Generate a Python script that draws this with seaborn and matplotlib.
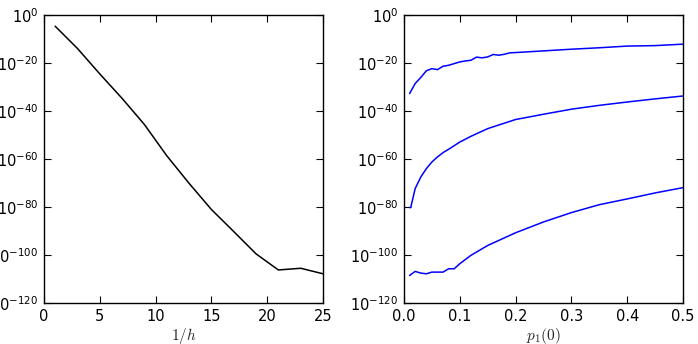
import numpy as np
import pandas as pd
import seaborn as sns
import matplotlib.pyplot as plt

# left panel: error vs 1/h (log10 of values)
inv_h = [1, 3, 5, 7, 9, 11, 13, 15, 17, 19, 21, 23, 25]
err_exp = [-4.6, -13.9, -24.5, -34.7, -45.6, -58.6, -70.1, -81.0, -90.2, -99.5, -106.2, -105.5, -107.8]

# right panel: three curves vs p1(0) (log10 of values)
p_top = [0.01, 0.02, 0.03, 0.04, 0.05, 0.06, 0.07, 0.08, 0.09, 0.10, 0.11, 0.12, 0.13, 0.14,
         0.15, 0.16, 0.17, 0.18, 0.19, 0.20, 0.25, 0.30, 0.35, 0.40, 0.45, 0.50]
top_exp = [-32.7, -28.5, -26.0, -23.2, -22.3, -22.7, -21.3, -20.9, -20.2, -19.5, -19.1, -18.8,
           -17.5, -17.8, -17.4, -16.4, -16.7, -16.3, -15.7, -15.6, -14.9, -14.2, -13.6, -12.9,
           -12.7, -12.1]

p_mid = [0.01, 0.012, 0.02, 0.03, 0.04, 0.05, 0.06, 0.07, 0.08, 0.10, 0.12, 0.15, 0.20,
         0.25, 0.30, 0.35, 0.40, 0.45, 0.50]
mid_exp = [-80.2, -80.2, -72.3, -67.5, -64.0, -61.2, -59.1, -57.3, -55.9, -52.9, -50.5, -47.3,
           -43.5, -41.3, -39.2, -37.6, -36.2, -34.9, -33.7]

p_bot = [0.01, 0.02, 0.03, 0.04, 0.05, 0.06, 0.07, 0.08, 0.09, 0.10, 0.12, 0.15, 0.20,
         0.25, 0.30, 0.35, 0.40, 0.45, 0.50]
bot_exp = [-108.5, -106.8, -107.5, -107.8, -107.1, -107.1, -107.1, -105.7, -105.7, -103.6,
           -100.1, -96.0, -90.7, -86.2, -82.3, -79.0, -76.6, -74.1, -71.9]

sns.set_style("ticks")
plt.rcParams['font.family'] = ['DejaVu Sans']
plt.rcParams['axes.unicode_minus'] = False
plt.rcParams['mathtext.fontset'] = 'dejavusans'

fig = plt.figure(figsize=(6.98, 3.44), dpi=100)
ax1 = fig.add_axes([0.063, 0.119, 0.3998, 0.837])
ax2 = fig.add_axes([0.5788, 0.119, 0.3997, 0.837])

df_left = pd.DataFrame({'x': inv_h, 'y': 10.0 ** np.array(err_exp)})
sns.lineplot(data=df_left, x='x', y='y', ax=ax1, color='black', linewidth=1.1)

for xs, ex in [(p_top, top_exp), (p_mid, mid_exp), (p_bot, bot_exp)]:
    d = pd.DataFrame({'x': xs, 'y': 10.0 ** np.array(ex)})
    sns.lineplot(data=d, x='x', y='y', ax=ax2, color='#0000ff', linewidth=1.1)

yt = [10.0 ** k for k in range(-120, 1, 20)]
for ax in (ax1, ax2):
    ax.set_yscale('log')
    ax.set_ylim(1e-120, 1)
    ax.set_yticks(yt)
    ax.minorticks_off()
    ax.tick_params(direction='in', top=True, right=True, length=5, width=0.8,
                   labelsize=10.5, colors='black', pad=4)
    for s in ax.spines.values():
        s.set_linewidth(1.0)
        s.set_color('black')
    ax.set_ylabel('')

ax1.set_xlim(0, 25)
ax1.set_xticks([0, 5, 10, 15, 20, 25])
ax1.set_xlabel('$1/h$', fontsize=11, math_fontfamily='cm', labelpad=2)

ax2.set_xlim(0, 0.5)
ax2.set_xticks([0.0, 0.1, 0.2, 0.3, 0.4, 0.5])
ax2.set_xticklabels(['0.0', '0.1', '0.2', '0.3', '0.4', '0.5'])
ax2.set_xlabel('$p_1(0)$', fontsize=11, math_fontfamily='cm', labelpad=2)

fig.savefig('out.png', dpi=100)
